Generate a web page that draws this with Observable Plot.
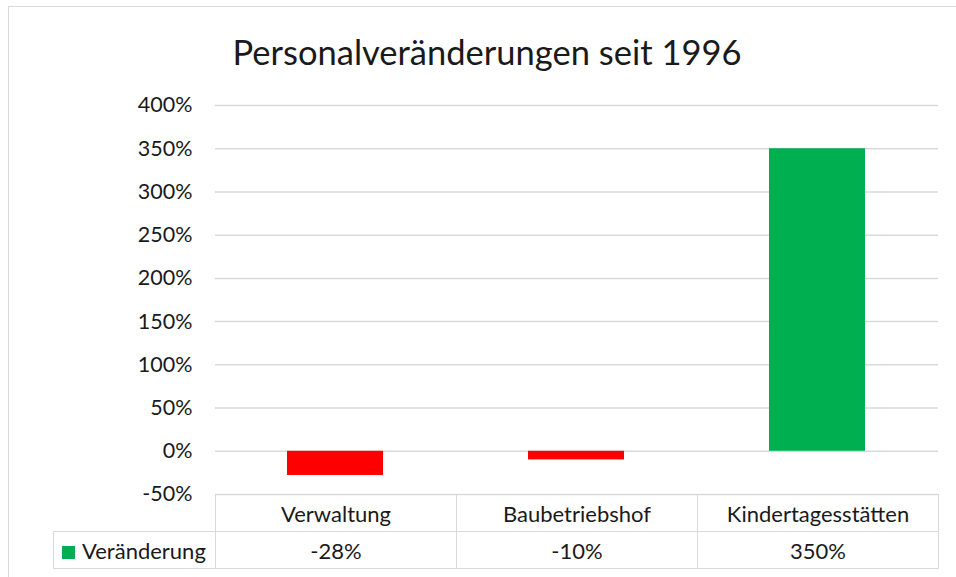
<!DOCTYPE html>
<html>
<head>
<meta charset="utf-8">
<script src="https://cdn.jsdelivr.net/npm/d3@7"></script>
<script src="https://cdn.jsdelivr.net/npm/@observablehq/plot@0.6"></script>
<style>
  html, body { margin: 0; padding: 0; background: #fff; }
  #chart { position: relative; width: 956px; height: 577px; overflow: hidden; font-family: Lato, "Open Sans", sans-serif; color: #1a1a1a; }
  #frame { position: absolute; left: 8px; top: 6px; width: 1000px; height: 650px; border: 1.5px solid #d9d9d9; box-sizing: border-box; }
  #title { position: absolute; left: 487px; top: 31px; transform: translateX(-50%); font-size: 34.5px; line-height: 42px; white-space: nowrap; }
  #plot { position: absolute; left: 0; top: 0; }
  #table { position: absolute; border-collapse: collapse; font-size: 22px; table-layout: fixed; }
  #table td { border: 1.5px solid #d9d9d9; text-align: center; padding: 0; box-sizing: border-box; }
  #table td.blank { border-top: none; border-left: none; }
  #table td.legend { text-align: left; padding-left: 8px; white-space: nowrap; }
  .swatch { display: inline-block; width: 13px; height: 13px; margin-right: 7px; vertical-align: 0px; }
</style>
</head>
<body>
<div id="chart">
  <div id="frame"></div>
  <div id="title"></div>
  <div id="plot"></div>
  <table id="table"></table>
</div>
<script>
const title = "Personalveränderungen seit 1996";
const categories = ["Verwaltung", "Baubetriebshof", "Kindertagesstätten"];
const values = [-28, -10, 350];
const seriesName = "Veränderung";
const yTicks = [-50, 0, 50, 100, 150, 200, 250, 300, 350, 400];
const negColor = "#FF0000";
const posColor = "#00B050";
const legendColor = "#00B050";

const data = categories.map((c, i) => ({category: c, value: values[i]}));
const pct = d => d + "%";

document.getElementById("title").textContent = title;

const chart = Plot.plot({
  width: 956,
  height: 577,
  marginLeft: 215,
  marginRight: 18,
  marginTop: 105,
  marginBottom: 83,
  style: {fontFamily: "Lato, 'Open Sans', sans-serif", fontSize: "21.5px", color: "#1a1a1a", background: "transparent", overflow: "visible"},
  x: {domain: categories, paddingInner: 0.6, paddingOuter: 0.3, axis: null},
  y: {domain: [-50, 400], ticks: yTicks, tickFormat: pct, axis: null},
  color: {type: "identity"},
  marks: [
    Plot.gridY(yTicks, {stroke: "#d9d9d9", strokeOpacity: 1, strokeWidth: 1.5}),
    Plot.barY(data, {x: "category", y: "value", fill: d => d.value < 0 ? negColor : posColor}),
    Plot.axisY(yTicks, {tickSize: 0, tickPadding: 23, tickFormat: pct, label: null, fontSize: 21.5, fill: "#1a1a1a"})
  ]
});
document.getElementById("plot").appendChild(chart);

// data table aligned with the plot's own x scale
const xs = chart.scale("x");
const ys = chart.scale("y");
const step = xs.step;
const left0 = xs.range[0];
const tableTop = ys.apply(-50);
const legendWidth = 162;
const rowH = 37;
const table = document.getElementById("table");
table.style.left = (left0 - legendWidth) + "px";
table.style.top = tableTop + "px";
table.style.width = (legendWidth + step * categories.length) + "px";
const cg = document.createElement("colgroup");
[legendWidth, ...categories.map(() => step)].forEach(w => {
  const col = document.createElement("col"); col.style.width = w + "px"; cg.appendChild(col);
});
table.appendChild(cg);
const r1 = table.insertRow();
r1.style.height = rowH + "px";
const blank = r1.insertCell(); blank.className = "blank";
categories.forEach(c => { r1.insertCell().textContent = c; });
const r2 = table.insertRow();
r2.style.height = rowH + "px";
const lc = r2.insertCell(); lc.className = "legend";
const sw = document.createElement("span"); sw.className = "swatch"; sw.style.background = legendColor;
lc.appendChild(sw); lc.appendChild(document.createTextNode(seriesName));
values.forEach(v => { r2.insertCell().textContent = pct(v); });
</script>
</body>
</html>
